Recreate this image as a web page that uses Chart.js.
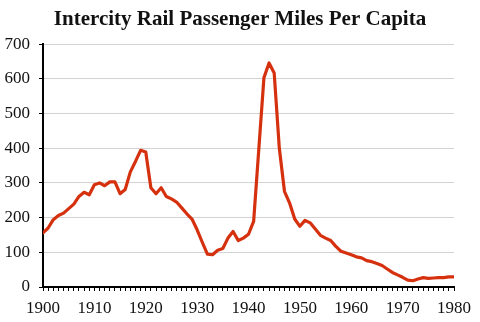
<!DOCTYPE html>
<html>
<head>
<meta charset="utf-8">
<script src="https://cdn.jsdelivr.net/npm/chart.js@4"></script>
<style>
  html, body { margin: 0; padding: 0; background: #fff; }
  #wrap { width: 480px; height: 322px; }
</style>
</head>
<body>
<div id="wrap"><canvas id="railChart" width="480" height="322"></canvas></div>
<script>
// Passenger miles per person, one value per year from 1900 on
const firstYear = 1900;
const milesPerCapita = [
  156, 170, 194, 206, 213, 226, 239, 261, 273, 266,
  295, 300, 292, 303, 303, 269, 281, 332, 362, 394,
  389, 286, 269, 286, 261, 254, 245, 228, 211, 196,
  165, 129, 95, 93, 106, 111, 141, 160, 134, 141,
  152, 189, 396, 603, 646, 617, 400, 276, 242, 196,
  175, 192, 185, 167, 149, 141, 134, 117, 103, 98,
  93, 87, 84, 76, 73, 68, 62, 52, 42, 35,
  28, 20, 18, 23, 27, 25, 26, 27, 27, 29,
  29
];
const yTickLabels = [0, 100, 200, 300, 400, 500, 600, 700];
const xTickLabels = [1900, 1910, 1920, 1930, 1940, 1950, 1960, 1970, 1980];

const points = milesPerCapita.map((v, i) => ({ x: firstYear + i, y: v }));

const serif = '"Liberation Serif", "DejaVu Serif", serif';
const ctx = document.getElementById('railChart').getContext('2d');

new Chart(ctx, {
  type: 'line',
  data: {
    datasets: [{
      data: points,
      borderColor: '#d5310f',
      borderWidth: 3.2,
      pointRadius: 0,
      tension: 0,
      borderJoinStyle: 'round',
      borderCapStyle: 'round'
    }]
  },
  options: {
    responsive: false,
    animation: false,
    layout: { padding: 0 },
    plugins: {
      legend: { display: false },
      tooltip: { enabled: false },
      title: {
        display: true,
        text: 'Intercity Rail Passenger Miles Per Capita',
        color: '#111',
        font: { family: serif, size: 21, weight: 'bold', lineHeight: 1.2 },
        padding: { top: 7, bottom: 12 }
      }
    },
    scales: {
      x: {
        type: 'linear',
        min: xTickLabels[0],
        max: xTickLabels[xTickLabels.length - 1],
        afterFit: s => { s.height = 35; },
        border: { color: '#000', width: 2 },
        grid: { drawOnChartArea: false, color: '#000', tickLength: 4, lineWidth: 1 },
        ticks: {
          stepSize: 1,
          autoSkip: false,
          maxRotation: 0,
          padding: 7,
          color: '#111',
          font: { family: serif, size: 17 },
          callback: v => xTickLabels.includes(v) ? String(v) : ''
        }
      },
      y: {
        min: yTickLabels[0],
        max: yTickLabels[yTickLabels.length - 1],
        afterFit: s => { s.width = 43; },
        border: { color: '#000', width: 2 },
        grid: { color: '#d3d3d3', lineWidth: 1, tickColor: '#000', tickLength: 4 },
        ticks: {
          stepSize: 100,
          padding: 9,
          color: '#111',
          font: { family: serif, size: 17 },
          callback: v => yTickLabels.includes(v) ? String(v) : ''
        }
      },
      // empty strip on the right so the title stays centred on the page
      spacer: {
        position: 'right',
        afterFit: s => { s.width = 26; },
        border: { display: false },
        grid: { display: false },
        ticks: { display: false }
      }
    }
  }
});
</script>
</body>
</html>
